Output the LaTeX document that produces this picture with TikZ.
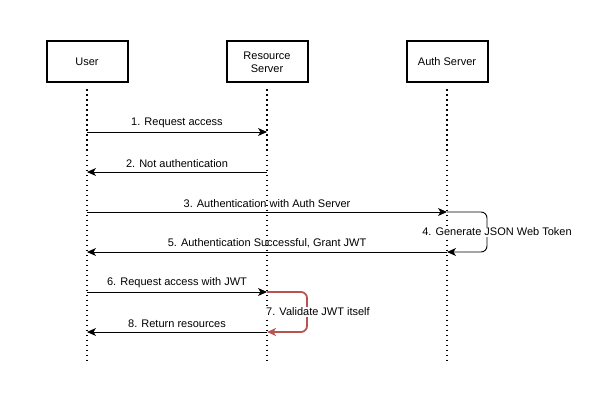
\documentclass[tikz,border=0pt]{standalone}
\usepackage{fontspec}
\setmainfont{Liberation Sans}
\usetikzlibrary{positioning, calc}
\usetikzlibrary{arrows.meta}
\definecolor{valred}{RGB}{184,84,80}
\tikzset{
	actor/.style={draw,line width=2pt,minimum width=81pt,minimum height=41pt,align=center,font=\fontsize{11}{13}\selectfont},
	life/.style={line width=1.8pt,dash pattern=on 1.8pt off 3.2pt},
	msg/.style={-{Stealth[length=9pt,width=8pt,inset=2.5pt]},line width=0.9pt},
	lbl/.style={font=\fontsize{11}{13}\selectfont,inner sep=1pt}
}
\begin{document}
\begin{tikzpicture}[x=1pt,y=-1pt]
	\useasboundingbox (0,0) rectangle (602,401);
	\node [actor] (user) at (87,62) {User};
	\node [actor] (rs) at (267,62) {Resource\\Server};
	\node [actor] (as) at (447,62) {Auth Server};
	% lifelines
	\coordinate (bot) at (0,362);
	\draw [life] ([yshift=-6pt]user.south) -- (user |- bot);
	\draw [life] ([yshift=-6pt]rs.south) -- (rs |- bot);
	\draw [life] ([yshift=-6pt]as.south) -- (as |- bot);
	% message rows
	\coordinate (m1) at (0,132);
	\coordinate (m2) at (0,172);
	\coordinate (m3) at (0,212);
	\coordinate (m5) at (0,252);
	\coordinate (m6) at (0,292);
	\coordinate (m8) at (0,332);
	\draw [msg] (user |- m1) -- (rs |- m1) node[lbl,midway,above=3pt]{1. Request access};
	\draw [msg] (rs |- m2) -- (user |- m2) node[lbl,midway,above=3pt]{2. Not authentication};
	\draw [msg] (user |- m3) -- (as |- m3) node[lbl,midway,above=3pt]{3. Authentication with Auth Server};
	\draw [msg,rounded corners=6pt] (as |- m3) -- ++(40,0) |- (as |- m5);
	\node [lbl,fill=white] (gen) at (497,232) {4. Generate JSON Web Token};
	\draw [msg] (as |- m5) -- (user |- m5) node[lbl,midway,above=3pt]{5. Authentication Successful, Grant JWT};
	\draw [msg] (user |- m6) -- (rs |- m6) node[lbl,midway,above=3pt]{6. Request access with JWT};
	\draw [msg,valred,line width=1.8pt,rounded corners=6pt] (rs |- m6) -- ++(40,0) |- (rs |- m8);
	\node [lbl,fill=white] (val) at (318,312) {7. Validate JWT itself};
	\draw [msg] (rs |- m8) -- (user |- m8) node[lbl,midway,above=3pt]{8. Return resources};
\end{tikzpicture}
\end{document}
